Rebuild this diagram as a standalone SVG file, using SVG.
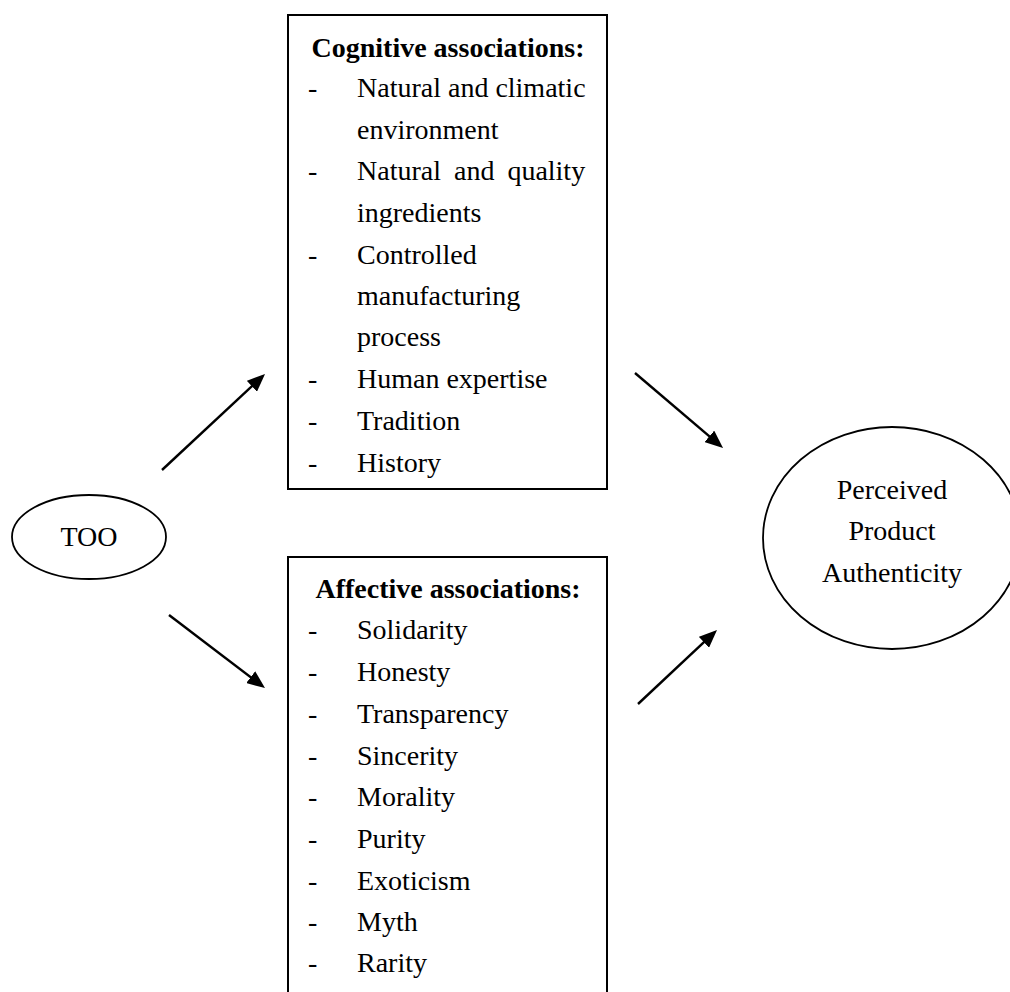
<svg xmlns="http://www.w3.org/2000/svg" width="1010" height="992" viewBox="0 0 1010 992">
<style>
text{font-family:"Liberation Serif","Times New Roman",serif;font-size:28px;fill:#000}
.h{font-weight:bold;text-anchor:middle}
.c{text-anchor:middle}
.box{fill:#fff;stroke:#000;stroke-width:2}
.ell{fill:#fff;stroke:#000;stroke-width:1.8}
.arr{stroke:#000;stroke-width:2.4;fill:none;marker-end:url(#ah)}
</style>
<defs>
<marker id="ah" viewBox="0 0 18 15" refX="14" refY="7.5" markerWidth="18" markerHeight="15" markerUnits="userSpaceOnUse" orient="auto">
<path d="M0,0 L18,7.5 L0,15 z" fill="#000"/>
</marker>
</defs>
<rect width="1010" height="992" fill="#fff"/>
<g id="cognitive">
<rect class="box" x="288" y="15" width="319" height="474"/>
<text class="h" x="448" y="57">Cognitive associations:</text>
<text x="308" y="97">-</text><text x="357" y="97">Natural and climatic</text>
<text x="357" y="139">environment</text>
<text x="308" y="180">-</text><text x="357" y="180" word-spacing="6">Natural and quality</text>
<text x="357" y="222">ingredients</text>
<text x="308" y="264">-</text><text x="357" y="264">Controlled</text>
<text x="357" y="305">manufacturing</text>
<text x="357" y="346">process</text>
<text x="308" y="388">-</text><text x="357" y="388">Human expertise</text>
<text x="308" y="430">-</text><text x="357" y="430">Tradition</text>
<text x="308" y="472">-</text><text x="357" y="472">History</text>
</g>
<g id="affective">
<rect class="box" x="288" y="557" width="319" height="460"/>
<text class="h" x="448" y="598">Affective associations:</text>
<text x="308" y="639">-</text><text x="357" y="639">Solidarity</text>
<text x="308" y="681">-</text><text x="357" y="681">Honesty</text>
<text x="308" y="723">-</text><text x="357" y="723">Transparency</text>
<text x="308" y="765">-</text><text x="357" y="765">Sincerity</text>
<text x="308" y="806">-</text><text x="357" y="806">Morality</text>
<text x="308" y="848">-</text><text x="357" y="848">Purity</text>
<text x="308" y="890">-</text><text x="357" y="890">Exoticism</text>
<text x="308" y="931">-</text><text x="357" y="931">Myth</text>
<text x="308" y="972">-</text><text x="357" y="972">Rarity</text>
</g>
<g id="too">
<ellipse class="ell" cx="89" cy="537" rx="77" ry="42"/>
<text class="c" x="89" y="546">TOO</text>
</g>
<g id="ppa">
<ellipse class="ell" cx="892" cy="538" rx="129" ry="111"/>
<text class="c" x="892" y="499">Perceived</text>
<text class="c" x="892" y="540">Product</text>
<text class="c" x="892" y="582">Authenticity</text>
</g>
<g id="connectors">
<line class="arr" x1="162" y1="470" x2="262.1" y2="376.7"/>
<line class="arr" x1="169" y1="615" x2="261.8" y2="685.6"/>
<line class="arr" x1="635" y1="373" x2="720" y2="445.4"/>
<line class="arr" x1="638" y1="704" x2="714.1" y2="632.7"/>
</g>
</svg>
